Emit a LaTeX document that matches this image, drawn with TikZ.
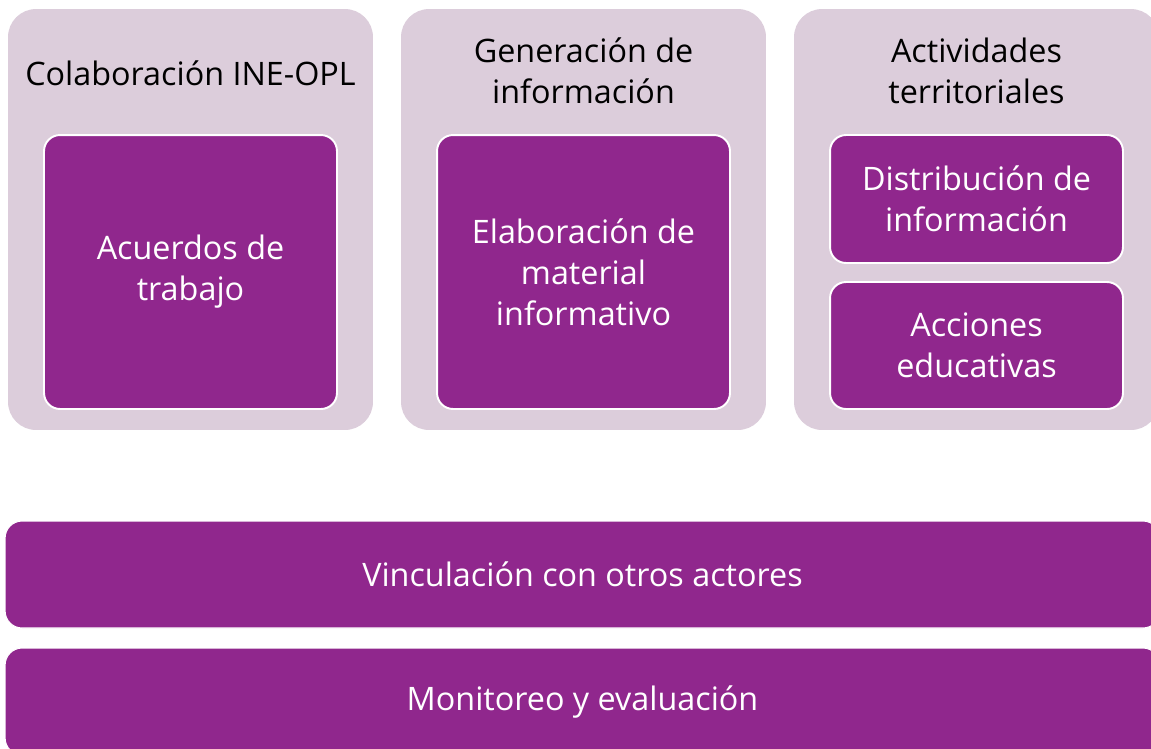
\documentclass[tikz,border=0pt]{standalone}
\usepackage{fontspec}
\setmainfont{Open Sans}
\usetikzlibrary{shapes.geometric}
\definecolor{lila}{RGB}{220,205,219}
\definecolor{morado}{RGB}{144,39,141}

\begin{document}
\begin{tikzpicture}[x=0.02cm,y=-0.02cm]
\tikzstyle{group} = [rectangle, fill=lila, rounded corners=0.56cm,
minimum width=7.3cm, minimum height=8.42cm, inner sep=0pt]
\tikzstyle{title} = [text=black, align=center, inner sep=0pt,
font=\fontsize{18.4}{23.3}\selectfont]
\tikzstyle{block} = [rectangle, draw=white, line width=1.1pt, fill=morado,
text=white, align=center, rounded corners=0.32cm, minimum width=5.86cm,
inner sep=0pt, font=\fontsize{18.4}{23.3}\selectfont]
\tikzstyle{bar} = [rectangle, draw=white, line width=0.6pt, fill=morado,
text=white, rounded corners=0.34cm, minimum width=23.1cm,
minimum height=2.14cm, inner sep=0pt, font=\fontsize{18.4}{23.3}\selectfont]
\clip (0,0) rectangle (1151,748);
\useasboundingbox (0,0) rectangle (1151,748);
% row 1
\node [group] (colab) at (190.5,219.5) {};
\node [group] (gener) at (583.5,219.5) {};
\node [group] (activ) at (976.5,219.5) {};
\node [title] (colabT) at (190.5,73) {Colaboración INE-OPL};
\node [title] (generT) at (583.5,71) {Generación de\\información};
\node [title] (activT) at (976.5,71) {Actividades\\territoriales};
\node [block, minimum height=5.48cm] (acuerdos) at (190.5,272) {Acuerdos de\\trabajo};
\node [block, minimum height=5.48cm] (elabora) at (583.5,272) {Elaboración de\\material\\informativo};
\node [block, minimum height=2.56cm] (distrib) at (976.5,199) {Distribución de\\información};
\node [block, minimum height=2.54cm] (acciones) at (976.5,345.5) {Acciones\\educativas};
% row 2
\node [bar] (vincula) at (582.5,574.5) {Vinculación con otros actores};
\node [bar] (monitor) at (582.5,701.5) {Monitoreo y evaluación};
\end{tikzpicture}
\end{document}
